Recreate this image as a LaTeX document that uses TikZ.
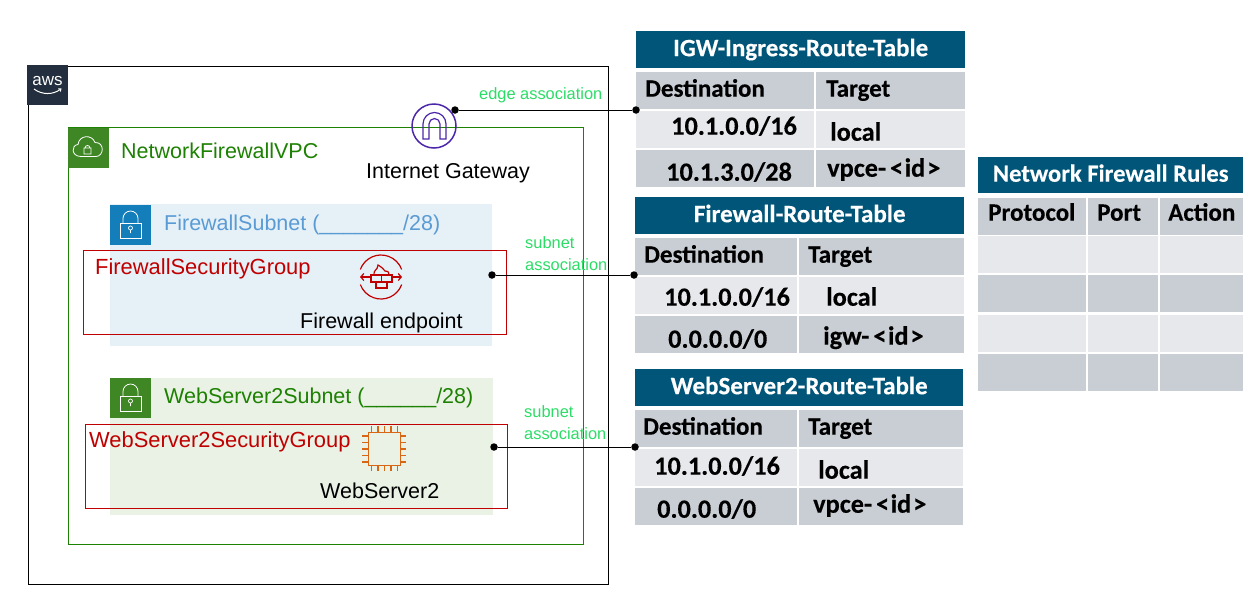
\documentclass[tikz,border=0pt]{standalone}
\usepackage{fontspec}
\setmainfont{Liberation Sans}
\newfontfamily\tablefont[BoldFeatures={FakeBold=0.3}]{Carlito}
\usetikzlibrary{arrows.meta}
\definecolor{awsnavy}{HTML}{232F3E}
\definecolor{vpcgreen}{HTML}{3F8624}
\definecolor{vpctext}{HTML}{1D8102}
\definecolor{subnetblue}{HTML}{147EBA}
\definecolor{subnettext}{HTML}{5A9BD5}
\definecolor{subnetfill}{HTML}{E6F0F7}
\definecolor{webfill}{HTML}{E9F2E5}
\definecolor{sgred}{HTML}{C00000}
\definecolor{assocgreen}{HTML}{2BDD66}
\definecolor{igwpurple}{HTML}{4D27AA}
\definecolor{chiporange}{HTML}{D86613}
\definecolor{tabletitle}{HTML}{005578}
\definecolor{rowdark}{HTML}{C9CED5}
\definecolor{rowlight}{HTML}{E6E8EC}
\newcommand{\tcell}[7]{\node[#1, anchor=north west, text width=#5pt] (#2) at (#3,#4) {\hspace*{#6pt}#7};}
\newcommand{\idtag}[1]{#1-\kern4pt<\kern1.5pt id\kern2pt>}
\tikzset{
	sans21/.style={font=\fontsize{21.5}{24}\selectfont},
	sans22/.style={font=\fontsize{21.9}{24}\selectfont},
	container/.style={draw, anchor=north west, inner sep=0pt, line width=1.1pt},
	subnetbox/.style={fill=#1, anchor=north west, inner sep=0pt},
	iconbox/.style={fill=#1, anchor=north west, inner sep=0pt, minimum width=41pt, minimum height=40pt},
	dot/.style={circle, fill=black, inner sep=0pt, minimum size=7.5pt},
	assoc/.style={text=assocgreen, font=\fontsize{16.4}{22}\selectfont, anchor=west, inner sep=0pt},
	link/.style={line width=0.9pt},
	tabletop/.style={fill=tabletitle, text=white, inner sep=0pt, minimum height=37pt, anchor=north west, align=center, text height=16pt, text depth=3pt, font=\tablefont\bfseries\fontsize{25}{28}\selectfont},
	hcell/.style={fill=rowdark, inner xsep=0pt, inner ysep=0pt, minimum height=37pt, align=left, text height=16pt, text depth=4pt, font=\tablefont\bfseries\fontsize{25}{28}\selectfont},
	lcell/.style={hcell, fill=rowlight, font=\tablefont\bfseries\fontsize{26.3}{28}\selectfont},
	dcell/.style={lcell, fill=rowdark},
	lockicon/.pic={
		\draw[white, line width=0.8pt] (-10.5,4) rectangle (10.5,19);
		\draw[white, line width=0.8pt] (-7.5,4) -- (-7.5,-0.5) arc[start angle=180, end angle=360, radius=7.5] -- (7.5,4);
		\draw[white, line width=0.7pt] (0,9) circle (2) (0,11) -- (0,14);
	},
}
\begin{document}
\begin{tikzpicture}[x=1pt, y=-1pt]
	\useasboundingbox (0,0) rectangle (1249,592);
	\fill[white] (0,0) rectangle (1249,592);
	\node[container, minimum width=580pt, minimum height=518pt] (awsgroup) at (28,66) {};
	\node[iconbox=awsnavy] (awslogo) at (27,65) {};
	\node[text=white, inner sep=0pt, font=\fontsize{17}{17}\selectfont] (awsword) at (47.5,81) {aws};
	\draw[white, line width=1pt, -{Straight Barb[length=2pt,width=3.5pt]}] (34,89) .. controls (42,95) and (53,95) .. (61.5,88.5);
	\node[container, draw=vpctext, minimum width=515pt, minimum height=417pt] (vpcgroup) at (68,127) {};
	\node[iconbox=vpcgreen] (vpcicon) at (68,128) {};
	\draw[white, line width=0.8pt] (81,156.5) .. controls (71,156.5) and (71,145) .. (78,144.5) .. controls (79,135) and (92,134) .. (95,142.5) .. controls (105,142) and (104,156.5) .. (96,156.5) -- cycle;
	\draw[white, line width=0.8pt] (84,148) rectangle (91,154) (85,148) arc[start angle=180, end angle=360, radius=2.5];
	\node[anchor=west, inner sep=0pt, text=vpctext, sans21] (vpclabel) at (121,151) {NetworkFirewallVPC};
	% firewall subnet
	\node[subnetbox=subnetfill, minimum width=382pt, minimum height=142pt] (fwsubnet) at (110,204) {};
	\node[iconbox=subnetblue] (fwlock) at (110,205) {};
	\pic at (130.5,219) {lockicon};
	\node[anchor=west, inner sep=0pt, text=subnettext, sans21] (fwsubnetlabel) at (164,225) {FirewallSubnet (\_\_\_\_\_\_\_/28)};
	\node[container, draw=sgred, minimum width=423pt, minimum height=84pt] (fwgroup) at (83,250) {};
	\node[anchor=west, inner sep=0pt, text=sgred, sans22] (fwgrouplabel) at (95,269) {FirewallSecurityGroup};
	\draw[sgred, line width=1.2pt] (381,277) ++(20:22) arc[start angle=20, end angle=160, radius=22] (381,277) ++(200:22) arc[start angle=200, end angle=340, radius=22];
	\draw[sgred, line width=1.2pt, {Straight Barb[length=3pt,width=7pt]}-] (360,277) -- (370,277);
	\draw[sgred, line width=1.2pt, -{Straight Barb[length=3pt,width=7pt]}] (392,277) -- (402,277);
	\draw[sgred, line width=1.2pt] (371,275) rectangle (392,282) (376,282) rectangle (387,288) (381.5,275) -- (381.5,282);
	\draw[sgred, line width=1.2pt] (374,275) .. controls (373,270) and (378,270) .. (378,265) .. controls (382,267) and (384,270) .. (385,271) .. controls (387,270) and (389,272) .. (389,275);
	\node[anchor=west, inner sep=0pt, sans21] (fwendpoint) at (300,323) {Firewall endpoint};
	% web server subnet
	\node[subnetbox=webfill, minimum width=383pt, minimum height=137pt] (websubnet) at (110,378) {};
	\node[iconbox=vpcgreen] (weblock) at (110,378) {};
	\pic at (130.5,392) {lockicon};
	\node[anchor=west, inner sep=0pt, text=vpctext, sans21] (websubnetlabel) at (164,398) {WebServer2Subnet (\_\_\_\_\_\_/28)};
	\node[container, draw=sgred, minimum width=422pt, minimum height=84pt] (webgroup) at (85,424) {};
	\node[anchor=west, inner sep=0pt, text=sgred, sans22] (webgrouplabel) at (89,442) {WebServer2SecurityGroup};
	\draw[chiporange, line width=1.6pt] (368.5,432.5) rectangle (400.5,465.5);
	\foreach \p in {-13,-6.5,0,6.5,13} {
		\draw[chiporange, line width=1.2pt] (384.5+\p,426) -- (384.5+\p,432.5) (384.5+\p,465.5) -- (384.5+\p,471) (362,449+\p) -- (368.5,449+\p) (400.5,449+\p) -- (406,449+\p);
	}
	\node[anchor=west, inner sep=0pt, sans21] (webserver) at (320,491) {WebServer2};
	% internet gateway
	\node[circle, draw=igwpurple, line width=1.5pt, inner sep=0pt, minimum size=44pt] (igw) at (434,126) {};
	\draw[igwpurple, line width=1.2pt] (423,139) -- (423,124) arc[start angle=180, end angle=360, radius=11.5] -- (446,139) -- (440,139) -- (440,124) arc[start angle=360, end angle=180, radius=5.5] -- (429,139) -- cycle;
	\node[anchor=west, inner sep=0pt, sans21] (igwlabel) at (366,173) {Internet Gateway};
	% route tables
	\node[tabletop, minimum width=329pt] (igwtitle) at (636,31) {IGW-Ingress-Route-Table};
	\tcell{hcell}{igwdest}{636}{72}{178}{9}{Destination}
	\tcell{hcell}{igwtarget}{816}{72}{149}{10}{Target}
	\tcell{lcell}{igwrowa}{636}{111}{178}{35}{\raisebox{1pt}{10.1.0.0/16}}
	\tcell{lcell}{igwrowb}{816}{111}{149}{14}{\raisebox{-5pt}{local}}
	\tcell{dcell}{igwrowc}{636}{150}{178}{30}{\raisebox{-6pt}{10.1.3.0/28}}
	\tcell{dcell}{igwrowd}{816}{150}{149}{11}{\raisebox{-2pt}{\idtag{vpce}}}
	\node[tabletop, minimum width=329pt] (fwtitle) at (635,197) {Firewall-Route-Table};
	\tcell{hcell}{fwdest}{635}{238}{162}{9}{Destination}
	\tcell{hcell}{fwtarget}{799}{238}{165}{9}{Target}
	\tcell{lcell}{fwrowa}{635}{277}{162}{29}{\raisebox{-4pt}{10.1.0.0/16}}
	\tcell{lcell}{fwrowb}{799}{277}{165}{27}{\raisebox{-4pt}{local}}
	\tcell{dcell}{fwrowc}{635}{316}{162}{33}{\raisebox{-7pt}{0.0.0.0/0}}
	\tcell{dcell}{fwrowd}{799}{316}{165}{24}{\raisebox{-4pt}{\idtag{igw}}}
	\node[tabletop, minimum width=328pt] (webtitle) at (635,369) {WebServer2-Route-Table};
	\tcell{hcell}{webdest}{635}{410}{162}{8}{Destination}
	\tcell{hcell}{webtarget}{799}{410}{164}{9}{Target}
	\tcell{lcell}{webrowa}{635}{449}{162}{19}{\raisebox{-1pt}{10.1.0.0/16}}
	\tcell{lcell}{webrowb}{799}{449}{164}{19}{\raisebox{-5pt}{local}}
	\tcell{dcell}{webrowc}{635}{488}{162}{22}{\raisebox{-5pt}{0.0.0.0/0}}
	\tcell{dcell}{webrowd}{799}{488}{164}{14}{\idtag{vpce}}
	% rules table
	\node[tabletop, minimum width=265pt, minimum height=36pt, font=\tablefont\bfseries\fontsize{24.6}{28}\selectfont] (rulestitle) at (978,157) {Network Firewall Rules};
	\tcell{hcell}{ruleproto}{978}{198}{108}{10}{\raisebox{2pt}{Protocol}}
	\tcell{hcell}{ruleport}{1088}{198}{70}{9}{\raisebox{2pt}{Port}}
	\tcell{hcell}{ruleaction}{1160}{198}{83}{8}{\raisebox{2pt}{Action}}
	\foreach \n/\y/\s in {a/236/lcell, b/275/dcell, c/315/lcell, d/354/dcell} {
		\tcell{\s}{rule\n one}{978}{\y}{108}{0}{}
		\tcell{\s}{rule\n two}{1088}{\y}{70}{0}{}
		\tcell{\s}{rule\n three}{1160}{\y}{83}{0}{}
	}
	% associations
	\node[dot] (igwdot) at (455,110) {};
	\node[dot] (igwend) at (636,110) {};
	\node[dot] (fwdot) at (492,275) {};
	\node[dot] (fwend) at (634,275) {};
	\node[dot] (webdot) at (494,447) {};
	\node[dot] (webend) at (635,447) {};
	\draw[link] (igwdot) -- (igwend);
	\draw[link] (fwdot) -- (fwend);
	\draw[link] (webdot) -- (webend);
	\node[assoc] (edgelabel) at (479,95) {edge association};
	\node[assoc] (fwassoca) at (525,243) {subnet};
	\node[assoc] (fwassocb) at (525,265) {association};
	\node[assoc] (webassoca) at (524,412) {subnet};
	\node[assoc] (webassocb) at (524,434) {association};
\end{tikzpicture}
\end{document}
